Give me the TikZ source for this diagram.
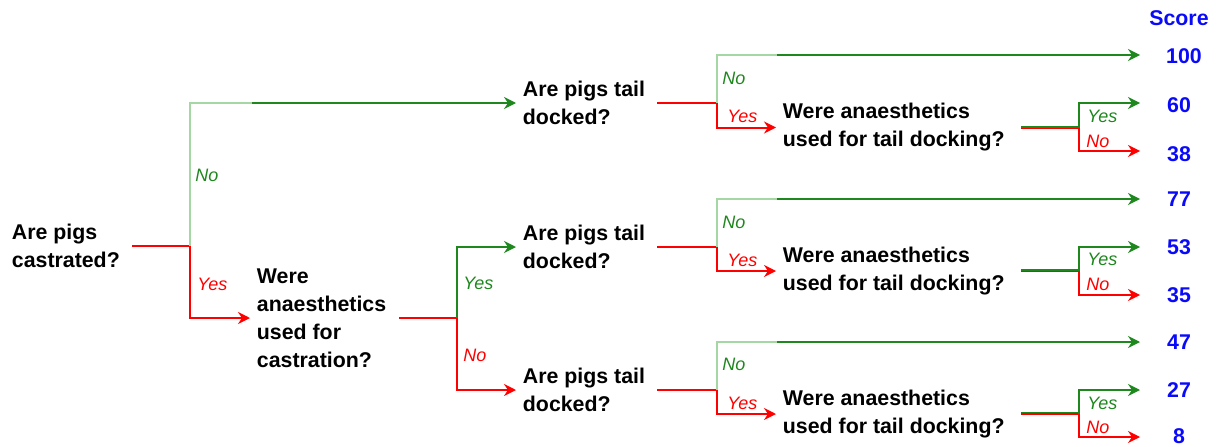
\documentclass[tikz,border=0pt]{standalone}
\usepackage{fontspec}
\setmainfont{Liberation Sans}
\usetikzlibrary{arrows.meta}
\definecolor{branchred}{RGB}{255,0,0}
\definecolor{branchgreen}{RGB}{30,135,30}
\definecolor{palegreen}{RGB}{165,215,165}
\definecolor{scoreblue}{RGB}{10,10,250}

\begin{document}
\begin{tikzpicture}[x=0.75pt, y=-0.75pt]
\tikzset{question/.style={font=\bfseries\fontsize{16}{21}\selectfont, align=left, anchor=west, inner ysep=0pt, inner xsep=5pt}}
\tikzset{score/.style={font=\bfseries\fontsize{16}{19}\selectfont, text=scoreblue, inner sep=0pt}}
\tikzset{greenlab/.style={font=\itshape\fontsize{13.5}{16}\selectfont, text=branchgreen, anchor=west, inner sep=0pt}}
\tikzset{redlab/.style={greenlab, text=branchred}}
\tikzset{redline/.style={draw=branchred, line width=1.5pt}}
\tikzset{greenline/.style={draw=branchgreen, line width=1.5pt}}
\tikzset{paleline/.style={draw=palegreen, line width=0.9pt}}
\tikzset{pointer/.style={-{Stealth[length=9pt, width=9pt, inset=3pt]}}}
\useasboundingbox (0,0) rectangle (1219,446);

% questions
\node[question] (castr) at (5,246) {Are pigs\\castrated?};
\node[question] (anaes) at (250,318) {Were\\anaesthetics\\used for\\castration?};
\node[question] (dockA) at (516,103) {Are pigs tail\\docked?};
\node[question] (dockB) at (516,247) {Are pigs tail\\docked?};
\node[question] (dockC) at (516,390) {Are pigs tail\\docked?};
\node[question] (tailA) at (776,127.5) {Were anaesthetics\\used for tail docking?};
\node[question] (tailB) at (776,271) {Were anaesthetics\\used for tail docking?};
\node[question] (tailC) at (776,414) {Were anaesthetics\\used for tail docking?};

% scores
\node[score] (head) at (1179,18) {Score};
\node[score] (s100) at (1184,56.5) {100};
\node[score] (s60) at (1179,105.5) {60};
\node[score] (s38) at (1179,154.5) {38};
\node[score] (s77) at (1179,199.5) {77};
\node[score] (s53) at (1179,247.5) {53};
\node[score] (s35) at (1179,295.5) {35};
\node[score] (s47) at (1179,342.5) {47};
\node[score] (s27) at (1179,390.5) {27};
\node[score] (s8) at (1179,436.5) {8};

% branch points
\coordinate (j0) at (190,246);
\coordinate (g0) at (252,103);
\coordinate (j1) at (457,318);
\coordinate (jA) at (717,103);
\coordinate (gA) at (777,55);
\coordinate (kA) at (1079,127.5);
\coordinate (jB) at (717,247);
\coordinate (gB) at (777,199);
\coordinate (kB) at (1079,271);
\coordinate (jC) at (717,390);
\coordinate (gC) at (777,342);
\coordinate (kC) at (1079,414);
% arrow ends in front of the scores
\coordinate (eA0) at (1140,55);
\coordinate (eA1) at (1140,103);
\coordinate (eA2) at (1140,151);
\coordinate (eB0) at (1140,199);
\coordinate (eB1) at (1140,247);
\coordinate (eB2) at (1140,295);
\coordinate (eC0) at (1140,342);
\coordinate (eC1) at (1140,390);
\coordinate (eC2) at (1140,437);

% castrated?
\draw[redline] ([xshift=4pt]castr.east) -- (j0);
\draw[paleline] (j0) |- (g0);
\draw[greenline, pointer] (g0) -- (g0 -| dockA.west);
\draw[redline, pointer] (j0) |- (anaes.west);
\node[greenlab] (no0) at (195,175) {No};
\node[redlab] (yes0) at (197,284) {Yes};

% anaesthetics for castration?
\draw[redline] ([xshift=4.5pt]anaes.east) -- (j1);
\draw[greenline, pointer] (j1) |- (dockB.west);
\draw[redline, pointer] (j1) |- (dockC.west);
\node[greenlab] (yes1) at (463,283) {Yes};
\node[redlab] (no1) at (463,355) {No};

% tail docked? (top)
\draw[redline] ([xshift=4pt]dockA.east) -- (jA);
\draw[paleline] (jA) |- (gA);
\draw[greenline, pointer] (gA) -- (eA0);
\draw[redline, pointer] (jA) |- (tailA.west);
\node[greenlab] (noA) at (722,78.5) {No};
\node[redlab] (yesA) at (727,116.5) {Yes};
\draw[redline] ([xshift=7pt]tailA.east) -- (kA);
\draw[greenline] ([xshift=7pt, yshift=0.5pt]tailA.east) -- ([yshift=0.5pt]kA);
\draw[greenline, pointer] (kA) |- (eA1);
\draw[redline, pointer] (kA) |- (eA2);
\node[greenlab] (yesA2) at (1087,116.5) {Yes};
\node[redlab] (noA2) at (1086,141) {No};

% tail docked? (middle)
\draw[redline] ([xshift=4pt]dockB.east) -- (jB);
\draw[paleline] (jB) |- (gB);
\draw[greenline, pointer] (gB) -- (eB0);
\draw[redline, pointer] (jB) |- (tailB.west);
\node[greenlab] (noB) at (722,222) {No};
\node[redlab] (yesB) at (727,260) {Yes};
\draw[redline] ([xshift=7pt]tailB.east) -- (kB);
\draw[greenline] ([xshift=7pt, yshift=0.5pt]tailB.east) -- ([yshift=0.5pt]kB);
\draw[greenline, pointer] (kB) |- (eB1);
\draw[redline, pointer] (kB) |- (eB2);
\node[greenlab] (yesB2) at (1087,259.5) {Yes};
\node[redlab] (noB2) at (1086,284) {No};

% tail docked? (bottom)
\draw[redline] ([xshift=4pt]dockC.east) -- (jC);
\draw[paleline] (jC) |- (gC);
\draw[greenline, pointer] (gC) -- (eC0);
\draw[redline, pointer] (jC) |- (tailC.west);
\node[greenlab] (noC) at (722,364.5) {No};
\node[redlab] (yesC) at (727,403.5) {Yes};
\draw[greenline] ([xshift=7pt, yshift=0.5pt]tailC.east) -- ([yshift=0.5pt]kC);
\draw[redline] ([xshift=7pt]tailC.east) -- (kC);
\draw[greenline, pointer] (kC) |- (eC1);
\draw[redline, pointer] (kC) |- (eC2);
\node[greenlab] (yesC2) at (1087,403.5) {Yes};
\node[redlab] (noC2) at (1086,427) {No};
\end{tikzpicture}
\end{document}
